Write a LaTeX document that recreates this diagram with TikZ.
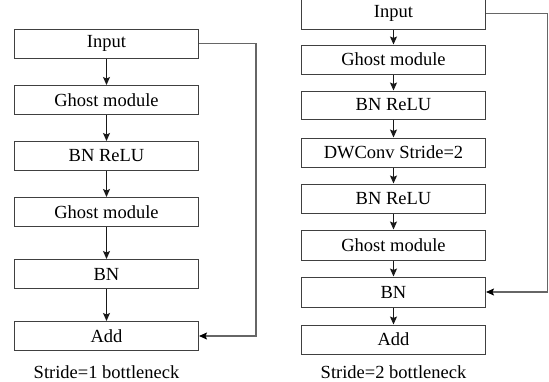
\documentclass[tikz,border=0pt]{standalone}
\usepackage{fontspec}
\setmainfont{Liberation Serif}
\usetikzlibrary{arrows.meta}
\tikzset{
  blk/.style={draw=black!75, line width=1pt, minimum width=184pt, inner sep=0pt, font=\fontsize{18.5}{20}\selectfont},
  flow/.style={draw=black!90, line width=1pt, -{Stealth[length=8pt,width=7pt,inset=1.5pt]}},
  skipL/.style={draw=black!60, line width=1.2pt, -{Stealth[length=8pt,width=7pt,inset=1.5pt,fill=black,color=black]}},
  captext/.style={font=\fontsize{18.5}{20}\selectfont}
}
\begin{document}
\begin{tikzpicture}[x=1pt,y=-1pt]
\useasboundingbox (0,0) rectangle (549,381);
% left column
\node[blk, minimum height=29pt] (l1) at (106.5,43.5) {Input};
\node[blk, minimum height=29pt] (l2) at (106.5,100) {Ghost module};
\node[blk, minimum height=29pt] (l3) at (106.5,156) {BN ReLU};
\node[blk, minimum height=29pt] (l4) at (106.5,212) {Ghost module};
\node[blk, minimum height=29pt] (l5) at (106.5,274) {BN};
\node[blk, minimum height=29pt] (l6) at (106.5,336) {Add};
\node[captext] (lc) at (106.5,372) {Stride=1 bottleneck};
\draw[flow] (l1) -- (l2);
\draw[flow] (l2) -- (l3);
\draw[flow] (l3) -- (l4);
\draw[flow] (l4) -- (l5);
\draw[flow] (l5) -- (l6);
\coordinate (lt) at (256,43.5);
\coordinate (lb) at (256,336);
\draw[skipL] (l1.east) -- (lt) -- (lb) -- (l6.east);
% right column
\node[blk, minimum height=31pt] (r1) at (393.5,13.5) {Input};
\node[blk, minimum height=29pt] (r2) at (393.5,59.5) {Ghost module};
\node[blk, minimum height=28pt] (r3) at (393.5,105) {BN ReLU};
\node[blk, minimum height=29pt] (r4) at (393.5,152.5) {DWConv Stride=2};
\node[blk, minimum height=29pt] (r5) at (393.5,198.5) {BN ReLU};
\node[blk, minimum height=30pt] (r6) at (393.5,245) {Ghost module};
\node[blk, minimum height=30pt] (r7) at (393.5,292) {BN};
\node[blk, minimum height=29pt] (r8) at (393.5,339.5) {Add};
\node[captext] (rc) at (393.5,372) {Stride=2 bottleneck};
\draw[flow] (r1) -- (r2);
\draw[flow] (r2) -- (r3);
\draw[flow] (r3) -- (r4);
\draw[flow] (r4) -- (r5);
\draw[flow] (r5) -- (r6);
\draw[flow] (r6) -- (r7);
\draw[flow] (r7) -- (r8);
\coordinate (rt) at (547.5,13.5);
\coordinate (rb) at (547.5,292);
\draw[skipL] (r1.east) -- (rt) -- (rb) -- (r7.east);
\end{tikzpicture}
\end{document}
